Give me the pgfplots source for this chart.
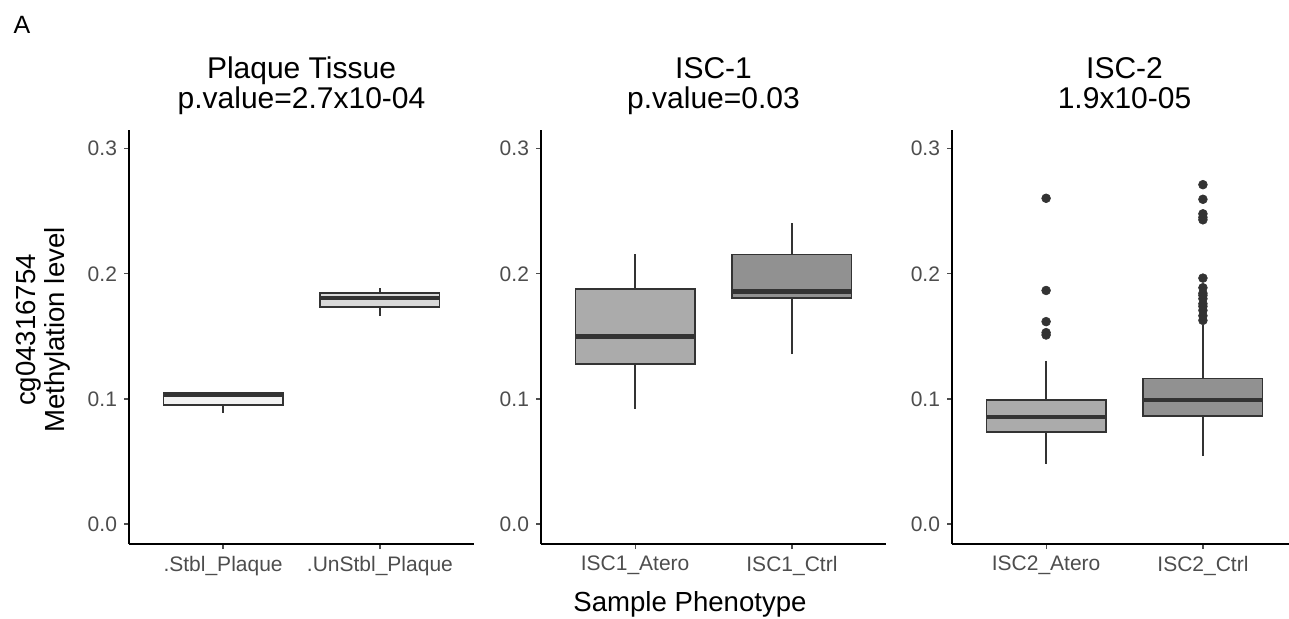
\documentclass[border=0pt]{standalone}
\usepackage{fontspec}
\setmainfont{Liberation Sans}
\usepackage{pgfplots}
\pgfplotsset{compat=1.18}
\usepgfplotslibrary{statistics}
\definecolor{boxInk}{HTML}{333333}
\definecolor{tickGrey}{HTML}{4D4D4D}
\definecolor{fillA}{HTML}{F2F2F2}
\definecolor{fillB}{HTML}{D9D9D9}
\definecolor{fillC}{HTML}{ABABAB}
\definecolor{fillD}{HTML}{919191}

\pgfplotsset{
  panel/.style={
    scale only axis, width=172.5pt, height=207pt,
    anchor=south west,
    xmin=0.4, xmax=2.6, ymin=-0.016, ymax=0.315,
    axis x line*=bottom, axis y line*=left,
    axis line style={black, line width=0.9pt, -},
    xtick={1,2}, ytick={0,0.1,0.2,0.3},
    yticklabel style={/pgf/number format/fixed, /pgf/number format/precision=1,
      /pgf/number format/fixed zerofill},
    /pgf/number format/assume math mode=true,
    tick style={tickGrey, line width=0.6pt},
    tick align=outside, major tick length=2.5pt,
    ticklabel style={font=\fontsize{10.5}{12}\selectfont, text=tickGrey},
    title style={font=\fontsize{15}{15}\selectfont, align=center, yshift=-3.5pt},
    boxplot/draw direction=y,
    boxplot/every median/.style={line width=2.2pt},
    clip=false,
  },
  bx/.style={draw=boxInk, fill=#1, line width=0.9pt, mark=*, mark size=2.2pt,
    mark options={fill=boxInk, draw=boxInk, line width=0.3pt}},
}

\begin{document}
\begin{tikzpicture}[x=0.5pt, y=0.5pt]
\path[use as bounding box] (0,0) rectangle (1289,618);

% Plaque tissue
\begin{axis}[panel, at={(64.5pt,37pt)},
  title={Plaque Tissue\\p.value=2.7x10-04\strut},
  xticklabels={.Stbl\_Plaque, .UnStbl\_Plaque}]
\addplot[bx=fillA, boxplot prepared={draw position=1, lower whisker=0.0886,
  lower quartile=0.0950, median=0.1033, upper quartile=0.1048,
  upper whisker=0.1052, box extend=0.76, whisker extend=0}] coordinates {};
\addplot[bx=fillB, boxplot prepared={draw position=2, lower whisker=0.1660,
  lower quartile=0.1734, median=0.1806, upper quartile=0.1849,
  upper whisker=0.1886, box extend=0.76, whisker extend=0}] coordinates {};
\end{axis}

% ISC-1
\begin{axis}[panel, at={(270.5pt,37pt)},
  title={ISC-1\\p.value=0.03\strut},
  xticklabels={ISC1\_Atero, ISC1\_Ctrl}]
\addplot[bx=fillC, boxplot prepared={draw position=1, lower whisker=0.0920,
  lower quartile=0.1277, median=0.1500, upper quartile=0.1881,
  upper whisker=0.2155, box extend=0.76, whisker extend=0}] coordinates {};
\addplot[bx=fillD, boxplot prepared={draw position=2, lower whisker=0.1357,
  lower quartile=0.1804, median=0.1860, upper quartile=0.2155,
  upper whisker=0.2408, box extend=0.76, whisker extend=0}] coordinates {};
\end{axis}

% ISC-2
\begin{axis}[panel, at={(476pt,37pt)},
  title={ISC-2\\1.9x10-05\strut},
  xticklabels={ISC2\_Atero, ISC2\_Ctrl}]
\addplot[bx=fillC, boxplot prepared={draw position=1, lower whisker=0.0476,
  lower quartile=0.0737, median=0.0854, upper quartile=0.0992,
  upper whisker=0.1306, box extend=0.76, whisker extend=0}]
  table[row sep=\\, y index=0] {0.2604\\0.1867\\0.1618\\0.1530\\0.1511\\};
\addplot[bx=fillD, boxplot prepared={draw position=2, lower whisker=0.0543,
  lower quartile=0.0862, median=0.0990, upper quartile=0.1163,
  upper whisker=0.1588, box extend=0.76, whisker extend=0}]
  table[row sep=\\, y index=0] {0.2713\\0.2596\\0.2480\\0.2452\\0.2432\\0.1966\\0.1889\\0.1845\\0.1828\\0.1801\\0.1761\\0.1740\\0.1708\\0.1665\\0.1628\\};
\end{axis}

\node[font=\fontsize{12.5}{13}\selectfont] at (22,593) {A};
\node[rotate=90, align=center, font=\fontsize{13.8}{14.5}\selectfont] at (43,288)
  {cg04316754\\Methylation level};
\node[font=\fontsize{13.8}{14}\selectfont] at (690,14) {Sample Phenotype};
\end{tikzpicture}
\end{document}
